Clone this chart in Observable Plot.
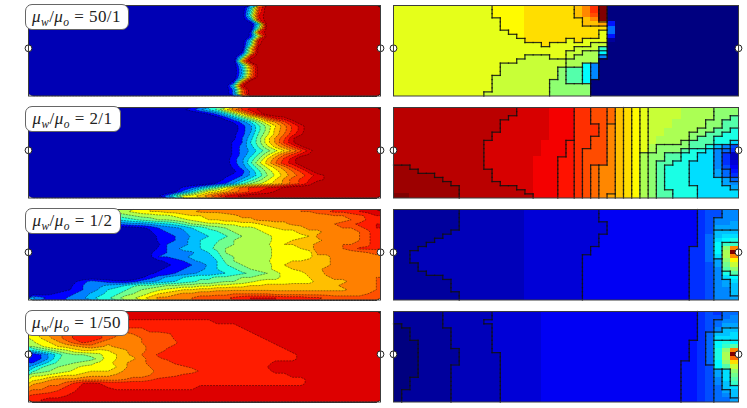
<!DOCTYPE html>
<html><head><meta charset="utf-8">
<script src="https://cdn.jsdelivr.net/npm/d3@7"></script>
<script src="https://cdn.jsdelivr.net/npm/@observablehq/plot@0.6"></script>
<style>
html,body{margin:0;padding:0;background:#fff}
#fig{position:relative;width:747px;height:408px;overflow:hidden}
#fig>svg,#fig>figure{position:absolute;margin:0}
.lab{position:absolute;background:#fff;border:1px solid #666;border-radius:7px;box-sizing:border-box;font:17px "Liberation Serif",serif;letter-spacing:.45px;color:#222;white-space:nowrap;text-align:center;line-height:24px}
.lab sub{font-size:11.5px;line-height:0}
</style></head><body><div id="fig"></div>
<script>
// Each row is run-length tokens: optional count + one base-36 level; the last token fills the row.
const labels = ["50/1","2/1","1/2","1/50"];
const labelWidths = [104,96,96,104];
const wellY = 10.4;

const satA = ["260 9 r z","260 b s z","260 d u z","260 7 t z","270 b z","270 f z","260 3 s z","260 3 i z","260 a v z","260 c w z","260 j z","250 3 j z","250 b u z","250 m z","250 a p z","250 8 n z","250 8 n z","250 a p z","240 3 m z","240 b w z","240 6 p z","240 6 p z"];
const satB = ["180 2 4 7 a d j o s v x z","200 1 3 6 a f k q v z","220 1 4 8 d h l r v w z","230 1 3 6 a f k n r v z","240 1 4 7 c g k o s v z","240 1 4 7 c g l o s v z","240 2 4 8 d h l p t w z","240 2 5 9 e j n r w z","230 1 3 5 a e j n s w z","230 1 3 6 9 d h l o s w z","230 1 3 6 8 b e h k n r v z","230 1 3 6 9 d h l p s v x z","230 1 4 7 b f k o s v z","230 1 4 7 c h l p t v z","230 1 3 6 a e i l o s v z","230 1 2 4 8 c g j m p s v z","220 1 2 3 5 8 b f i l o q t v x z","220 1 3 5 8 b e h k n q s u v x z","210 1 3 5 8 c f h j l n q s v z","170 1 3 5 8 b e i m q s t u v x z","170 2 6 a f j k m o q s u v x z","150 2 6 c i j l o r u w x z"];
const satC = ["11g h i j k k l l m m n n n n o o o o o o o o p p q r s s t u v w","11d e f g g h h i j k k l l m m n n n n o o o o o o o p p q r s u","11a b c d e f f g h i j k k l l m m n n n n o o o o o o o p q s t","115 6 7 7 8 9 a b d f g h h i i j j k l m m n n o o o p q r s t u","131 2 3 5 6 7 8 a b d e f g h h i j k l l m n n o o p p r s u","140 2 4 5 6 7 9 a b c e f g h h i i j j l m m n n o o p r t","140 1 3 4 5 6 8 9 a b c e f f g h i i i j k n n o o o p r t","150 3 4 5 7 8 a b c e f f g h h i j k l l m n o o o p r t","150 2 5 6 7 8 a b d e f f g h h j k k l m n o o p p q r t","150 3 5 7 8 9 a c d f f g g h h i i j k l o o o p q s s s","140 2 4 5 6 7 7 9 a c f f g g h h i i i j j n n o o o o p q","140 2 5 5 6 7 8 8 9 b e f g g h h i i i j j m m n n o o o o","150 2 3 4 5 7 8 9 a d f f g h h j j k k l m m n n n n o o","160 2 3 4 5 6 8 a c e f f g h i k k k l m m n n n n o o","150 2 3 3 5 6 7 8 a b c e f g h i i k l l m n n n n n o o","140 2 3 3 5 6 7 8 8 9 a b c d e f h i i j l l n n n n n o o","130 2 4 6 8 9 a b c c d d e f f g h h i i j k l m n n n o o p","50 2 4 6 5 4 3 3 4 6 7 8 9 a b c d d e f f g h i i i i j j j l l m m n n o p","51 3 5 6 7 8 9 a c d d e f f g g h h i i j j k k l l l l l l l m m n n o o p","41 2 3 5 6 8 a b c e f g h i j k k l l 16m n n o p","21 2 3 4 5 6 8 9 b c e f g i k l m n n 4o 5p 11o 2p","8 6 4 4 5 6 7 9 b c e g h j l n n o o p q q r r s t u u u u t t t s s r q q q q q r"];
const satD = ["v","v","11v 11t v","5q 20t v","4o 10q 12t v","j l n o q s t t s q q o p q q q r s 9t v","i k m o q s t t s q o o o p q q q s 10t v","h j k m o q s r p n o o o p q q r r 11t v","f h j k l m n o n m n o o o q q r s 12t v","a c e g h j k k j k l m o o q q s 14t v","3 5 8 b e f f g h j k m n p q s 16t v","3 5 8 c e e d e g j k m m o q r s 15t v","5 8 b d e f g h i j l m o o q q q s 11t v","9 c e f g h i i j j k m o o p q q q r s 8t u v","c e f g h i j k k k l n o o o q q q q q s 8t v","h h i j k k l m m m n o o o p q q r s 12t v","j k m n n n o o o o o p q q r s 17t v","m n o o q s u v u t 23t v","o o q q s t v v v u 10t v","q q r s t u v","s t t t u v","t u v"];

const presA = ["12l 4m 6n o q t z 0","12l 4m 6n o q t z 0","12l 4m 6n o q s z 0","13l 3m 7n o q z 0","13l 3m 7n o o p 5 0","13l 3m 10n 8 0","14l 2m 9n l 8 0","15l m 9n l 5 0","16l 5n l n 3l 1 0","18l n 5l 2k 0","22l 3k f 0","21l 2k 2j d 0","16l 3k 2l k 3j 9 0","15l 6k 4j 0","13l 8k 2j d 9 0","13l 7k i 2g d 9 0","13l 7k i 2g d 9 0","12l 8k i 2g d 9 0","12l 7k 2i 2g d 0","12l 7k 5i 0","12l 7k 5i 0","11l 8k 5i 0"];
const presB = ["15x 4w 3v 2t 2s r o n m l 4k 4j 3i","15x 4w 3v 2t 2s r o n m l 4k 4j 3i","14x 5w 3v 2t 2s r o n m l 4k 4j 2i g","13x 6w 3v 2t 2s r o n m l 3k 4j 2i 2g","13x 6w 3v 3t s q o n m l 3k 4j 2i 2g","13x 6w 3v 3t s q o n m l 2k 4j 2i 2g e","12x 7w 3v 3t s q o n m l 2k 3j 2i 2g 2e","12x 7w 3v 2t 2s q o n m l k 4j i 2g 3e","11x 7w 3v u 2t 2s q o n m l k 3j i 3g 2e c","11x 7w 3v u 2t 2s q o n m l j 4i 2g e b 9 7","11x 7w 3v u t 3s q o n m l j 3i g 2e c 9 8 6","11x 7w 3v u t 3s q o n m j 2i 2g 2e 2c 9 6 2","11x 6w 3v 2u t 3s q o n m j 2i 2g 2e 2c 9 6 2","11x 6w 3v 2u t 3s q o n m j i 2g 2e 3c 9 6 3","2y 9x 6w 3v 2u t s r 2q o n m j i g 3e 3c 9 7 4","3y 9x 5w 3v 2u t s r 2q o n m j i g 3e 3c a 8 5","5y 7x 5w 3v 2u t s r 2q o n m j i g 3e 3c a 8 6","6y 6x 5w 3v 2u t s r 2q o n m j i g 3e 4c a 8","7y 6x 4w 3v 2u t s r 2q o n m j i g 3e 4c a 9","8y 7x 2w 3v 2u t s r 2q o n m j i g 4e 4c a","8y 8x w 3v 2u t s r 2q o n m j i 2g 3e 5c","2z 6y 9x 3v 2u t s r q p o n m j i 2g 3e 5c"];
const presC = ["81 82 93 124 6 7 7 9 9","81 82 93 124 6 7 7 9 9","81 82 93 124 6 7 9 9 9","81 82 103 114 6 7 9 9 a","81 82 103 114 6 7 a a a","71 92 103 114 6 7 b b b","61 102 93 124 6 8 b c c","51 112 93 124 6 8 c d e","41 122 93 124 6 8 d f f","31 132 83 124 26 8 d i q","21 142 83 124 26 8 d j z","21 142 73 134 26 8 c j q","21 142 73 134 26 8 a i m","31 132 73 134 26 7 a h k","31 132 73 134 26 7 9 g i","41 122 73 134 26 7 9 e g","61 102 73 134 26 7 9 c d","71 92 73 134 26 7 9 a c","71 92 73 134 26 7 9 a b","71 92 73 134 26 7 9 9 b","81 82 73 134 26 7 9 9 b","81 82 73 134 26 7 9 9 a"];
const presD = ["61 62 63 194 6 7 6 8 8","61 62 63 194 6 7 7 8 9","61 52 73 194 6 7 8 9 9","0 51 62 63 194 6 7 8 a a","20 51 52 63 194 6 7 9 b b","20 51 52 63 194 6 8 b b c","20 51 52 63 194 6 8 c c c","30 41 52 63 184 5 6 8 d e d","30 41 52 63 184 5 6 8 d f g","30 51 42 63 184 5 6 8 e i q","30 51 52 53 184 5 6 8 e j z","30 51 52 53 184 5 6 8 e j r","30 51 52 53 174 25 6 8 d i n","30 41 62 53 174 25 6 7 d g k","30 41 62 53 174 25 6 7 a c i","30 41 62 53 174 25 6 7 a c h","20 51 62 53 174 25 6 7 9 c g","20 51 62 53 174 25 6 7 9 b f","20 51 62 53 174 25 6 7 8 b c","0 61 62 53 174 25 6 7 8 a b","0 61 62 53 174 25 6 7 8 9 b","0 61 62 53 174 25 6 7 8 8 a"];

const isoA = [8.5,11,14.5,16.5,18.5,19.5,20.5,21.5,23.5,30];
const isoB = [7.5,9,11,13,15,17,18.5,20.5,21.5,22.5,23.5,24.5,25.5,26.5,27.5,28.5,29.5,30.5,32.5,33.5];
const isoC = [1.5,3.5,5,8.5,10.5,14.5];
const isoD = [0.5,1.5,2.5,4.5,7.5,10.5,12.5];

const bandLevels = [0,2.5,5,7.5,10,12.5,15,17.5,20,22.5,25,27.5,30,32.5];
const bandColors = ["#0000b4","#0000ff","#007fff","#00bfff","#20ffe0","#70ff90","#b0ff50","#ffff00","#ffbf00","#ff8000","#ff5000","#ff1c00","#dd0000","#bb0000"];

const nx = 42, ny = 22;
const expand = rows => rows.flatMap(s => {
  const out = [];
  for (const tok of s.split(" ")) {
    const ch = tok.slice(-1), n = tok.length > 1 ? +tok.slice(0,-1) : 1;
    for (let i = 0; i < n; i++) out.push(parseInt(ch,36));
  }
  while (out.length < nx) out.push(out[out.length-1]);
  return out.slice(0,nx);
});
const jet = t => {
  const f = a => Math.round(255*Math.max(0,Math.min(1,1.5-Math.abs(4*t-a))));
  return `rgb(${f(3)},${f(2)},${f(1)})`;
};
const leftX = 28, rightX = 393, lw = 352, rw = 345, ph = 90.5, pad = 5;
const rowY = [5,107,209,311];
const fig = document.getElementById("fig");

function place(svg,x,y){ svg.style.left=(x-pad)+"px"; svg.style.top=(y-pad)+"px"; fig.appendChild(svg); }
const base = w => ({width:w+2*pad,height:ph+2*pad,margin:pad,
  x:{domain:[0,nx],axis:null},y:{domain:[ny,0],axis:null},style:{background:"transparent",overflow:"visible"}});
const wellMarks = () => [
  Plot.dot([0,nx],{x:d=>d,y:()=>wellY,r:3.4,fill:"#fff",stroke:"#222",strokeWidth:1}),
  Plot.frame({stroke:"#3c3c3c",strokeWidth:1})
];

[satA,satB,satC,satD].forEach((rows,i)=>{
  const values = expand(rows);
  place(Plot.plot({...base(lw),
    color:{type:"threshold",domain:bandLevels.slice(1),range:bandColors},
    marks:[
      Plot.contour(values,{width:nx,height:ny,x1:0,x2:nx,y1:0,y2:ny,fill:Plot.identity,thresholds:bandLevels,
        stroke:"#000",strokeWidth:0.5,strokeDasharray:"2,1",strokeOpacity:0.8}),
      ...wellMarks()
    ]}),leftX,rowY[i]);
});

[[presA,isoA],[presB,isoB],[presC,isoC],[presD,isoD]].forEach(([rows,iso],i)=>{
  const values = expand(rows);
  const cells = values.map((v,k)=>({c:k%nx,r:Math.floor(k/nx),v}));
  const crosses = (a,b)=>iso.some(t=>(a<t)!==(b<t));
  const segs = [];
  for (const {c,r,v} of cells){
    if (c<nx-1 && crosses(v,values[r*nx+c+1])) segs.push({x1:c+1,x2:c+1,y1:r,y2:r+1});
    if (r<ny-1 && crosses(v,values[(r+1)*nx+c])) segs.push({x1:c,x2:c+1,y1:r+1,y2:r+1});
  }
  place(Plot.plot({...base(rw),
    color:{type:"linear",domain:[0,35],interpolate:jet},
    marks:[
      Plot.rect(cells,{x1:"c",x2:d=>d.c+1,y1:"r",y2:d=>d.r+1,fill:"v",shapeRendering:"crispEdges"}),
      Plot.link(segs,{x1:"x1",x2:"x2",y1:"y1",y2:"y2",stroke:"#111",strokeWidth:1.25,strokeLinecap:"square",strokeOpacity:0.85}),
      ...wellMarks()
    ]}),rightX,rowY[i]);
});

labels.forEach((t,i)=>{
  const d=document.createElement("div");
  d.className="lab";
  d.style.left="24.5px"; d.style.top=(rowY[i]-1)+"px";
  d.style.width=labelWidths[i]+"px"; d.style.height="26px";
  d.innerHTML=`<i>μ<sub>w</sub></i>/<i>μ<sub>o</sub></i> = ${t}`;
  fig.appendChild(d);
});
</script></body></html>
